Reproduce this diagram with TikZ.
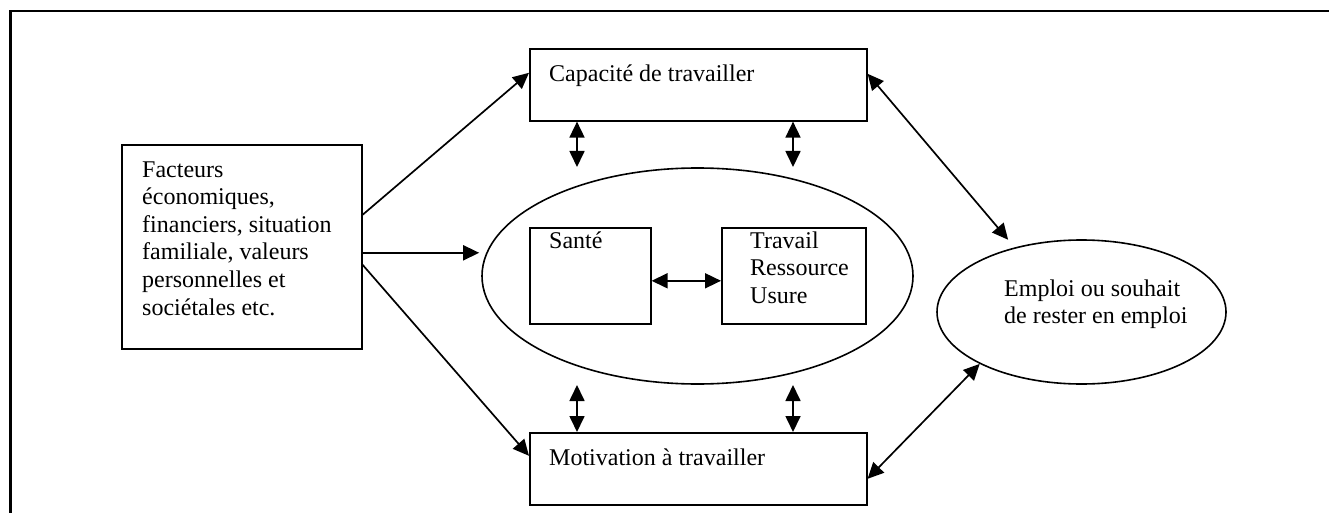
\documentclass[tikz,border=0pt]{standalone}
\usepackage{fontspec}
\setmainfont{Liberation Serif}
\usetikzlibrary{shapes.geometric,arrows.meta}
\begin{document}
\begin{tikzpicture}[x=1pt,y=-1pt,
  box/.style={draw, line width=1.6pt, inner sep=0pt, anchor=north west},
  oval/.style={draw, ellipse, line width=1.6pt, inner sep=0pt},
  txt/.style={anchor=base west, inner sep=0pt, align=left, font=\fontsize{24}{27.6}\selectfont},
  arr/.style={line width=1.7pt, -{Triangle[length=16pt,width=15pt]}},
  dbl/.style={line width=1.7pt, {Triangle[length=16pt,width=15pt]}-{Triangle[length=16pt,width=15pt]}},
]
\useasboundingbox (0,0) rectangle (1329,513);
\draw[line width=2.3pt] (10.5,514) -- (10.5,11) -- (1330,11);

\node[box, minimum width=240pt, minimum height=204pt] (fact) at (121,144) {};
\node[box, minimum width=337pt, minimum height=72pt] (cap) at (529,48) {};
\node[box, minimum width=337pt, minimum height=72pt] (mot) at (529,432) {};
\node[box, minimum width=121pt, minimum height=96pt] (san) at (529,227) {};
\node[box, minimum width=144pt, minimum height=96pt] (trav) at (721,227) {};
\node[oval, minimum width=431pt, minimum height=216pt] (ell) at (697.5,276) {};
\node[oval, minimum width=289pt, minimum height=144pt] (emp) at (1081.5,312) {};

% multi-line nodes: base anchor sits on the last line
\node[txt] (tfact) at (142,315) {Facteurs\\économiques,\\financiers, situation\\familiale, valeurs\\personnelles et\\sociétales etc.};
\node[txt] (tcap) at (549,82) {Capacité de travailler};
\node[txt] (tmot) at (549,465) {Motivation à travailler};
\node[txt] (tsan) at (549,248) {Santé};
\node[txt] (ttrav) at (750,303.2) {Travail\\Ressource\\Usure};
\node[txt] (temp) at (1004,323.6) {Emploi ou souhait\\de rester en emploi};

\coordinate (v1) at (577,167);
\coordinate (v2) at (793,167);
\coordinate (v3) at (577,385);
\coordinate (v4) at (793,385);

\draw[arr] ([yshift=32pt]fact.east) -- ([yshift=12pt]cap.west);
\draw[arr, shorten >=2pt] ([yshift=-6pt]fact.east) -- ([yshift=-6pt]fact.east -| ell.west);
\draw[arr] ([yshift=-18pt]fact.east) -- ([yshift=13pt]mot.west);
\draw[dbl, shorten >=10pt] ([yshift=11pt]cap.east) -- (emp.136.2);
\draw[dbl] ([yshift=-10pt]mot.east) -- (emp.207.6);
\draw[dbl] ([yshift=-5pt]san.east) -- ([yshift=-5pt]trav.west);
\draw[dbl] (cap.south -| v1) -- (v1);
\draw[dbl] (cap.south -| v2) -- (v2);
\draw[dbl] (v3) -- (mot.north -| v3);
\draw[dbl] (v4) -- (mot.north -| v4);
\end{tikzpicture}
\end{document}
